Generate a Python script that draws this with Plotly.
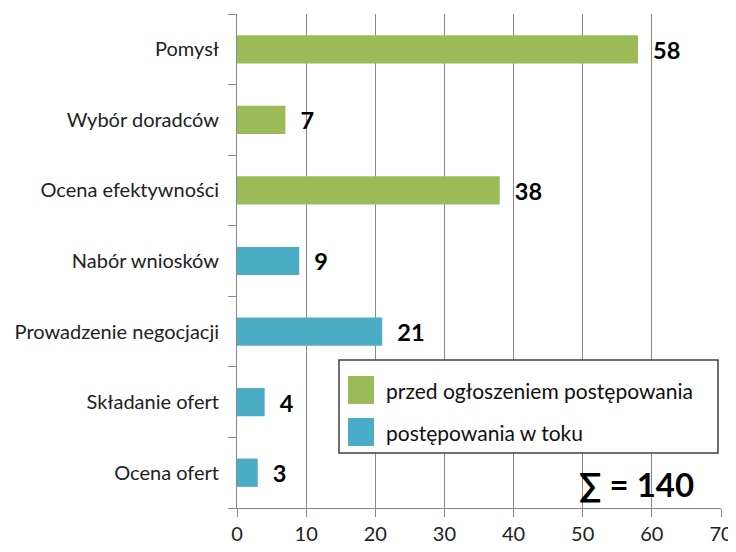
import plotly.graph_objects as go

categories = ["Pomysł", "Wybór doradców", "Ocena efektywności", "Nabór wniosków",
              "Prowadzenie negocjacji", "Składanie ofert", "Ocena ofert"]
values = [58, 7, 38, 9, 21, 4, 3]
group = ["przed ogłoszeniem postępowania"] * 3 + ["postępowania w toku"] * 4
series_names = ["przed ogłoszeniem postępowania", "postępowania w toku"]
colors = {"przed ogłoszeniem postępowania": "#9BBB59", "postępowania w toku": "#4BACC6"}
x_ticks = [0, 10, 20, 30, 40, 50, 60, 70]
total_label = "∑ = 140"

FONT = "Lato, Carlito, 'Open Sans', sans-serif"
W, H = 736, 552
OFF = 8  # default page body margin
# plot area in window pixels
PX0, PX1, PY0, PY1 = 237, 721, 14, 508
L, R, T, B = PX0 - OFF, W - (PX1 - OFF), PY0 - OFF, H - (PY1 - OFF)
PW, PH = PX1 - PX0, PY1 - PY0


def px_x(x):
    return (x - PX0) / PW


def px_y(y):
    return (PY1 - y) / PH


fig = go.Figure()
for name in series_names:
    cats = [c for c, g in zip(categories, group) if g == name]
    vals = [v for v, g in zip(values, group) if g == name]
    fig.add_trace(go.Bar(
        y=cats, x=vals, orientation="h", name=name,
        marker=dict(color=colors[name], line=dict(width=0)),
        text=[f"\u00a0\u00a0<b>{v}</b>" for v in vals], textposition="outside",
        textfont=dict(size=25, color="black", family=FONT),
        cliponaxis=False, showlegend=False,
    ))

# manual legend (box, swatches, labels)
shapes = [dict(type="rect", xref="paper", yref="paper",
               x0=px_x(339), x1=px_x(718), y0=px_y(453), y1=px_y(360),
               line=dict(color="#404040", width=1.5), fillcolor="white", layer="above")]
annotations = []
legend_rows = [390, 432]
for name, yc in zip(series_names, legend_rows):
    shapes.append(dict(type="rect", xref="paper", yref="paper",
                       x0=px_x(348), x1=px_x(374), y0=px_y(yc + 14), y1=px_y(yc - 14),
                       line=dict(width=0), fillcolor=colors[name], layer="above"))
    annotations.append(dict(text=name, xref="paper", yref="paper",
                            x=px_x(384), y=px_y(yc), xanchor="left", yanchor="middle",
                            showarrow=False, font=dict(size=21, color="#111", family=FONT)))

annotations.append(dict(text=f"<b>{total_label}</b>", xref="paper", yref="paper",
                        x=px_x(696), y=px_y(484), xanchor="right", yanchor="middle",
                        showarrow=False, font=dict(size=33, color="black", family=FONT)))

fig.update_layout(
    width=W, height=H,
    margin=dict(l=L, r=R, t=T, b=B),
    paper_bgcolor="white", plot_bgcolor="white",
    barmode="overlay", bargap=0.6,
    font=dict(family=FONT, size=20, color="#222"),
    showlegend=False,
    shapes=shapes, annotations=annotations,
)
fig.update_xaxes(range=[0, 70], tickvals=x_ticks, showgrid=True, gridcolor="#888888",
                 gridwidth=1, showline=True, linecolor="#888888", ticks="outside",
                 ticklen=8, tickcolor="#888888", zeroline=False, automargin=False,
                 tickfont=dict(size=20, color="#222"))
fig.update_yaxes(categoryorder="array", categoryarray=categories[::-1],
                 showline=True, linecolor="#888888", ticks="outside",
                 tickson="boundaries", ticklen=8, tickcolor="#888888", automargin=False,
                 ticklabelstandoff=13,
                 tickfont=dict(size=20, color="#222"))

fig.write_html("out.html")
